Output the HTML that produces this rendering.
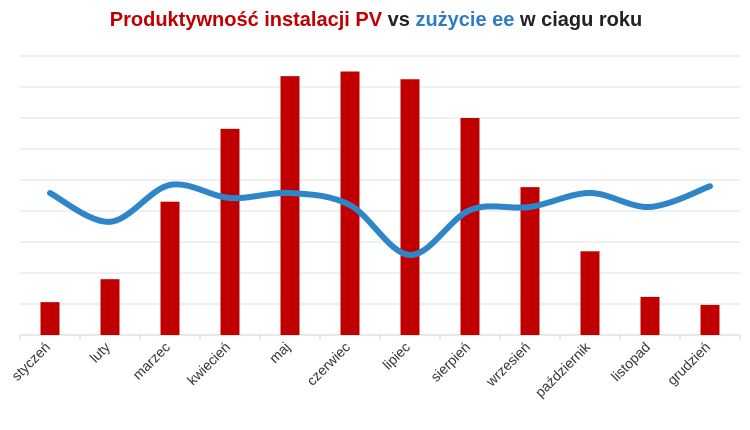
<!DOCTYPE html>
<html><head><meta charset="utf-8"><style>
body{margin:0;background:#fff;width:750px;height:425px;overflow:hidden;font-family:"Liberation Sans",sans-serif}
</style></head><body>
<svg id="chart" width="750" height="425" xmlns="http://www.w3.org/2000/svg">
<text x="376" y="26" text-anchor="middle" font-family="Liberation Sans, sans-serif" font-weight="bold" font-size="20"><tspan fill="#c00000">Produktywność instalacji PV</tspan><tspan fill="#222"> vs </tspan><tspan fill="#2e7cc4">zużycie ee</tspan><tspan fill="#222"> w ciagu roku</tspan></text>
<g id="grid"></g><g id="bars"></g><g id="line"></g><g id="labels"></g>
</svg>
<script>
const categories=["styczeń","luty","marzec","kwiecień","maj","czerwiec","lipiec","sierpień","wrzesień","październik","listopad","grudzień"];
const pvValues=[1.06,1.8,4.3,6.65,8.35,8.5,8.25,7.0,4.77,2.7,1.23,0.97];
const usageValues=[4.58,3.65,4.84,4.42,4.58,4.19,2.58,4.03,4.13,4.58,4.13,4.8];
const gridTicks=[0,1,2,3,4,5,6,7,8,9];
const NS="http://www.w3.org/2000/svg";
const L=20,R=740,B=335,U=31;
const bw=(R-L)/categories.length;
const x=i=>L+bw*(i+0.5);
const y=v=>B-v*U;
function mk(t,a,p){const e=document.createElementNS(NS,t);for(const k in a)e.setAttribute(k,a[k]);p.appendChild(e);return e;}
const g=document.getElementById('grid');
gridTicks.forEach(t=>{if(t===0)return;const l=mk('line',{x1:L,x2:R,y1:y(t),y2:y(t),stroke:'#e0e0e0','stroke-width':1},g);

});
const ax=mk('line',{x1:L,x2:R,y1:B,y2:B,stroke:'#d0d0d0','stroke-width':1},g);


for(let i=0;i<=categories.length;i++){const tk=mk('line',{x1:L+bw*i,x2:L+bw*i,y1:B,y2:B+5,stroke:'#d0d0d0'},g);

}
const bg=document.getElementById('bars');
pvValues.forEach((v,i)=>{const r=mk('rect',{x:x(i)-9.5,y:y(v),width:19,height:B-y(v),fill:'#c00000'},bg);

});
const pts=usageValues.map((v,i)=>[x(i),y(v)]);
let d='M'+pts[0][0]+','+pts[0][1];
for(let i=0;i<pts.length-1;i++){const p0=pts[Math.max(0,i-1)],p1=pts[i],p2=pts[i+1],p3=pts[Math.min(pts.length-1,i+2)];
const c1=[p1[0]+(p2[0]-p0[0])/6,p1[1]+(p2[1]-p0[1])/6],c2=[p2[0]-(p3[0]-p1[0])/6,p2[1]-(p3[1]-p1[1])/6];
d+=' C'+c1+' '+c2+' '+p2;}
const pl=mk('path',{d:d,fill:'none',stroke:'#2e86c8','stroke-width':6,'stroke-linecap':'round'},document.getElementById('line'));


const lg=document.getElementById('labels');
categories.forEach((c,i)=>{const tx=x(i)+1,ty=B+13;const t=mk('text',{x:tx,y:ty,'text-anchor':'end','font-size':14,fill:'#333','font-family':'Liberation Sans, sans-serif',transform:`rotate(-45 ${tx} ${ty})`},lg);t.textContent=c;

});
</script>
</body></html>
